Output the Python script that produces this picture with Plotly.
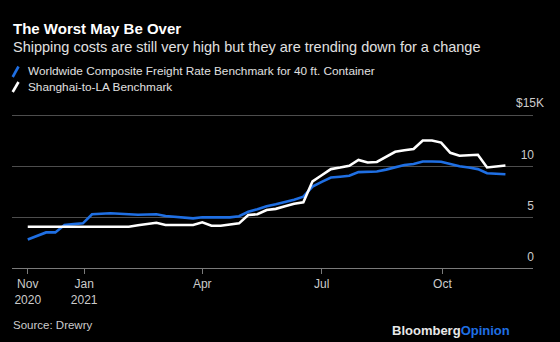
import plotly.graph_objects as go
import pandas as pd

# Weekly dates (Thursdays) Nov 19, 2020 - Nov 18, 2021
dates = pd.date_range("2020-11-19", "2021-11-18", freq="7D")

# Worldwide Composite (thousand $ per 40ft container)
composite = [2.80, 3.13, 3.49, 3.49, 4.21, 4.30, 4.38, 5.27, 5.32, 5.37,
             5.32, 5.27, 5.22, 5.25, 5.27, 5.10, 5.02, 4.95, 4.87, 4.97,
             4.97, 4.97, 4.97, 5.08, 5.52, 5.76, 6.06, 6.25, 6.45, 6.70,
             7.00, 7.99, 8.45, 8.87, 8.95, 9.04, 9.40, 9.45, 9.47, 9.65,
             9.90, 10.10, 10.20, 10.45, 10.45, 10.42, 10.20, 9.98, 9.85, 9.70,
             9.30, 9.22, 9.20]

# Shanghai-to-LA (thousand $)
shanghai_la = [4.05, 4.05, 4.05, 4.05, 4.05, 4.05, 4.05, 4.05, 4.05, 4.05,
               4.05, 4.05, 4.20, 4.35, 4.44, 4.21, 4.21, 4.21, 4.21, 4.48,
               4.14, 4.14, 4.25, 4.38, 5.20, 5.27, 5.69, 5.80, 6.05, 6.30,
               6.45, 8.50, 9.10, 9.70, 9.85, 10.03, 10.60, 10.35, 10.40, 10.90,
               11.40, 11.55, 11.67, 12.50, 12.50, 12.30, 11.30, 11.01, 11.05, 11.11,
               9.86, 9.95, 10.06]

x_tick_vals = ["2020-11-19", "2021-01-01", "2021-04-01", "2021-07-01", "2021-10-01"]
x_tick_text = ["Nov<br>2020", "Jan<br>2021", "Apr", "Jul", "Oct"]
y_tick_vals = [0, 5, 10]
y_tick_text = ["0", "5", "10"]

BLUE = "#1f6fe3"
FONT = "Liberation Sans, Arial, sans-serif"

fig = go.Figure()
fig.add_trace(go.Scatter(x=dates, y=composite, mode="lines",
                         line=dict(color=BLUE, width=2.6),
                         name="Worldwide Composite Freight Rate Benchmark for 40 ft. Container"))
fig.add_trace(go.Scatter(x=dates, y=shanghai_la, mode="lines",
                         line=dict(color="#ffffff", width=2.6),
                         name="Shanghai-to-LA Benchmark"))

H = 156.0  # plot height px
W = 521.0  # plot width px
def py(p):
    return (268 - p) / H
def px(p):
    return (p - 12) / W

fig.update_layout(
    width=560, height=342,
    margin=dict(l=12, r=27, t=112, b=74),
    paper_bgcolor="#000000", plot_bgcolor="#000000",
    showlegend=False,
    font=dict(family=FONT, color="#cccccc", size=12),
    xaxis=dict(
        type="date", range=["2020-11-07", "2021-12-09"],
        tickvals=x_tick_vals, ticktext=x_tick_text,
        showgrid=False, showline=True, linecolor="#7a7a7a", linewidth=1,
        ticks="outside", ticklen=5, tickcolor="#7a7a7a",
        tickfont=dict(size=12, color="#cccccc"), zeroline=False,
    ),
    yaxis=dict(
        range=[0, 15.3], side="right", tickvals=[0, 5, 10, 15],
        ticktext=y_tick_text + [""],
        ticklabelposition="inside", ticklabelshift=-11, ticklabelstandoff=-4,
        ticks="", ticklen=0,
        showgrid=True, gridcolor="#4d4d4d", gridwidth=1, zeroline=False,
        tickfont=dict(size=12, color="#cccccc"),
    ),
)

annotations = [
    dict(text="<b>The Worst May Be Over</b>", x=px(11), y=py(18), xanchor="left", yanchor="top",
         font=dict(size=15, color="#ffffff")),
    dict(text="Shipping costs are still very high but they are trending down for a change",
         x=px(11), y=py(37), xanchor="left", yanchor="top", font=dict(size=14.5, color="#e0e0e0")),
    dict(text="Worldwide Composite Freight Rate Benchmark for 40 ft. Container",
         x=px(25.5), y=py(71), xanchor="left", yanchor="middle", font=dict(size=11.8, color="#e0e0e0")),
    dict(text="Shanghai-to-LA Benchmark",
         x=px(25.5), y=py(87.5), xanchor="left", yanchor="middle", font=dict(size=11.8, color="#e0e0e0")),
    dict(text="$15K", x=px(546), y=py(103), xanchor="right", yanchor="middle",
         font=dict(size=12, color="#cccccc")),
    dict(text="Source: Drewry", x=px(11), y=py(325), xanchor="left", yanchor="middle",
         font=dict(size=11.5, color="#cccccc")),
    dict(text="<b>Bloomberg</b><b><span style='color:%s'>Opinion</span></b>" % BLUE,
         x=px(512), y=py(330), xanchor="right", yanchor="middle",
         font=dict(size=13, color="#e8e8e8")),
]
for a in annotations:
    a.update(xref="paper", yref="paper", showarrow=False)
fig.update_layout(annotations=annotations)

# legend glyphs (short slanted strokes)
fig.add_shape(type="line", xref="paper", yref="paper", x0=px(12.7), x1=px(18.5),
              y0=py(77), y1=py(66.5), line=dict(color=BLUE, width=2.6))
fig.add_shape(type="line", xref="paper", yref="paper", x0=px(12.7), x1=px(18.5),
              y0=py(92), y1=py(82), line=dict(color="#ffffff", width=2.6))

fig.write_html("out.html")
